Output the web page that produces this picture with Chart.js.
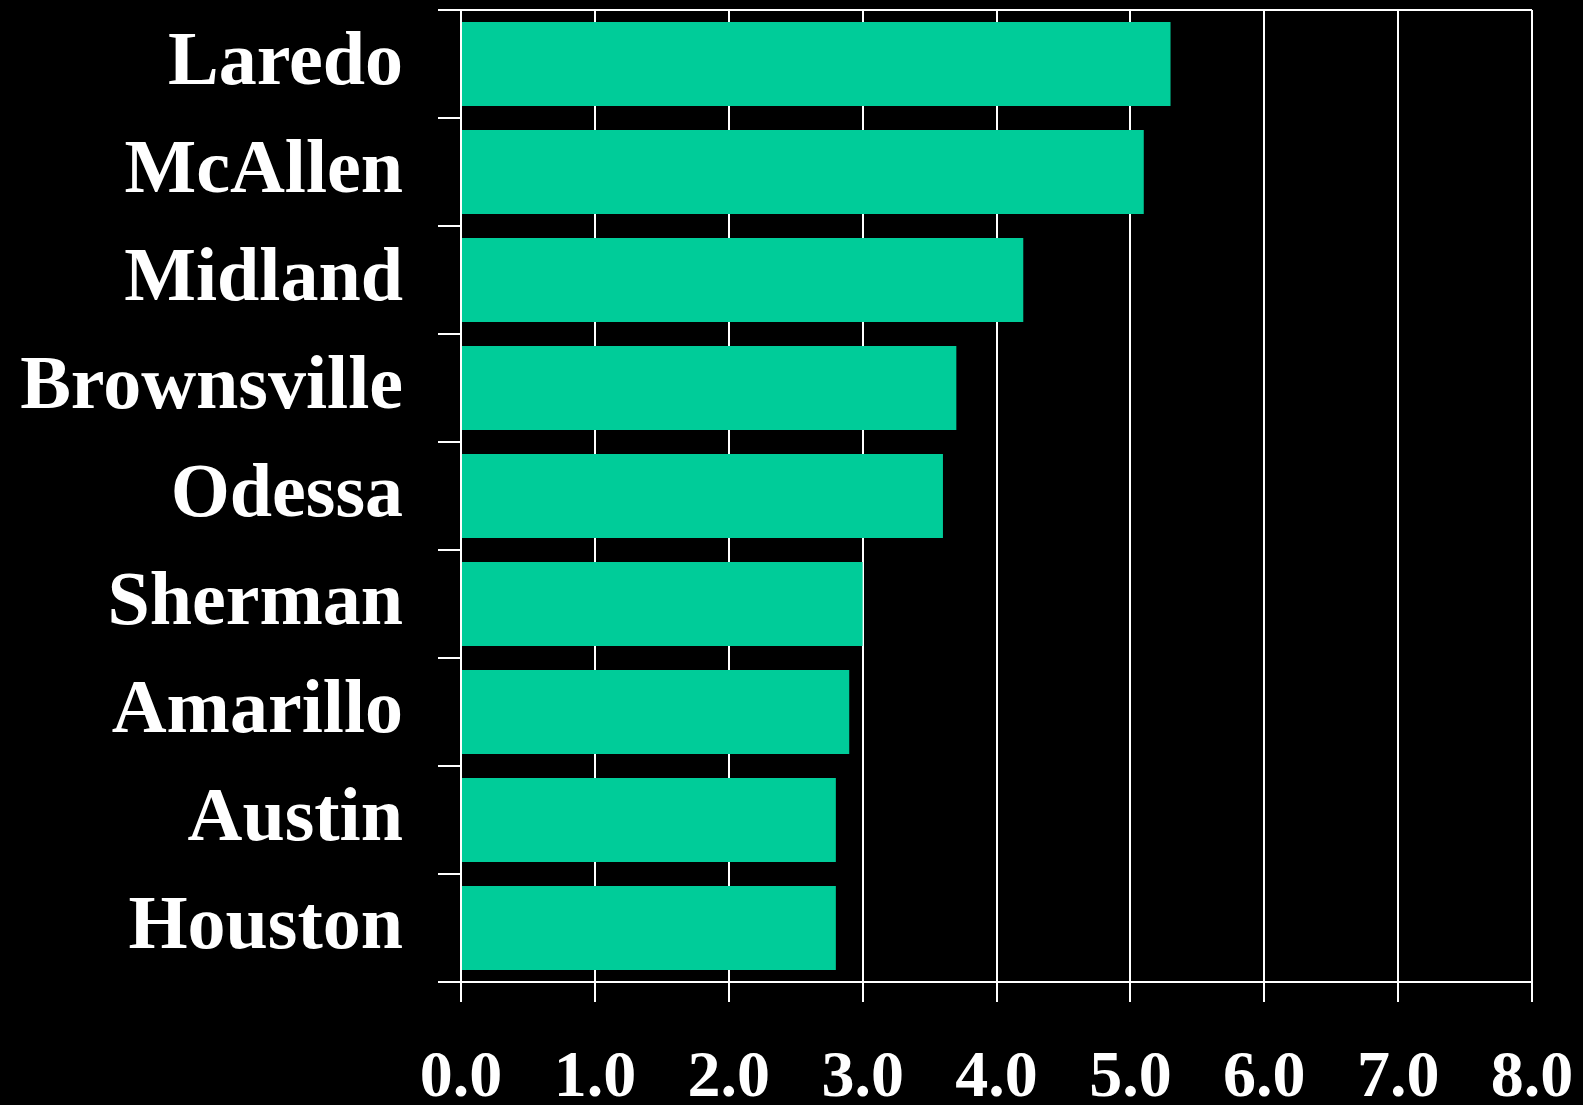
<!DOCTYPE html>
<html>
<head>
<meta charset="utf-8">
<script src="https://cdn.jsdelivr.net/npm/chart.js@4/dist/chart.umd.min.js"></script>
<style>
  html, body { margin: 0; padding: 0; background: #000; }
  .container { width: 1583px; height: 1105px; position: relative; }
</style>
</head>
<body>
<div class="container"><canvas id="chartJs"></canvas></div>
<script>
const cities = ["Laredo", "McAllen", "Midland", "Brownsville", "Odessa", "Sherman", "Amarillo", "Austin", "Houston"];
const rates = [5.3, 5.1, 4.2, 3.7, 3.6, 3.0, 2.9, 2.8, 2.8];
const xTicks = [0, 1, 2, 3, 4, 5, 6, 7, 8];

const serif = "'Liberation Serif', 'Times New Roman', serif";

const config = {
  type: 'bar',
  data: {
    labels: cities,
    datasets: [{
      data: rates,
      backgroundColor: '#00cc99',
      borderWidth: 0,
      barPercentage: 0.78,
      categoryPercentage: 1.0
    }]
  },
  options: {
    indexAxis: 'y',
    responsive: true,
    maintainAspectRatio: false,
    animation: false,
    layout: { padding: { top: 10, right: 51, bottom: 0, left: 0 } },
    plugins: {
      legend: { display: false },
      tooltip: { enabled: false }
    },
    scales: {
      x: {
        min: xTicks[0],
        max: xTicks[xTicks.length - 1],
        afterBuildTicks: axis => { axis.ticks = xTicks.map(v => ({ value: v })); },
        afterFit: axis => {
          axis.height = 123;
          axis.paddingLeft = 0;
          axis.paddingRight = 0;
        },
        border: { color: '#fff', width: 2 },
        grid: { color: '#fff', lineWidth: 2, tickLength: 20, tickColor: '#fff' },
        ticks: {
          color: '#fff',
          padding: 37,
          maxRotation: 0,
          font: { family: serif, size: 66, weight: 'bold' },
          callback: v => v.toFixed(1)
        }
      },
      y: {
        afterFit: axis => {
          axis.width = 461;
          axis.paddingTop = 0;
          axis.paddingBottom = 0;
        },
        border: { color: '#fff', width: 2 },
        grid: {
          offset: true,
          lineWidth: 2,
          tickLength: 23,
          tickColor: '#fff',
          // only the top and bottom edges run across the plot
          color: ctx => (ctx.index === 0 || ctx.index === cities.length) ? '#fff' : 'rgba(0,0,0,0)'
        },
        ticks: {
          color: '#fff',
          padding: 35,
          font: { family: serif, size: 76, weight: 'bold' }
        }
      }
    }
  }
};

new Chart(document.querySelector('#chartJs'), config);
</script>
</body>
</html>
